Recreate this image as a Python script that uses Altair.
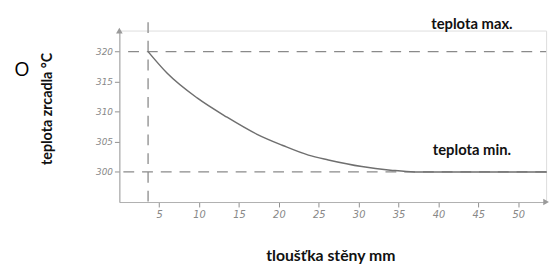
import altair as alt
import pandas as pd

# curve values
thickness = [3.6, 6.0, 9.75, 13.5, 17.2, 20.5, 23.7, 26.2, 30.4, 34.0, 37.0, 53.6]
temperature = [320, 316.4, 312.3, 309.1, 306.3, 304.4, 302.8, 302.0, 300.9, 300.3, 300.0, 300.0]

x_ticks = [5, 10, 15, 20, 25, 30, 35, 40, 45, 50]
y_ticks = [300, 305, 310, 315, 320]

t_max = 320
t_min = 300
x_start = 3.6

labels = ["teplota max.", "teplota min."]
label_x = [44.2, 44.2]
label_y = [324.6, 303.6]

X_DOM = [0, 53.5]
Y_DOM = [295, 323.5]
W, H = 433, 174
GREY = "#8a8a8a"

xs = alt.Scale(domain=X_DOM, nice=False, zero=False)
ys = alt.Scale(domain=Y_DOM, nice=False, zero=False)

curve_df = pd.DataFrame({"x": thickness, "y": temperature})

base_axes = alt.Chart(pd.DataFrame({"x": [0], "y": [Y_DOM[0]]})).mark_point(opacity=0).encode(
    x=alt.X("x:Q", scale=xs, axis=alt.Axis(
        values=x_ticks, title="tloušťka stěny mm", grid=False,
        domainColor="#b0b0b0", tickColor="#909090", tickSize=5,
        labelColor="#888", labelFont="DejaVu Sans", labelFontSize=10, labelFontStyle="italic",
        labelPadding=3,
        titleFont="Lato", titleFontSize=16, titleFontWeight="bold", titleColor="#111",
        titleX=214, titleY=46, titleAnchor="middle")),
    y=alt.Y("y:Q", scale=ys, axis=alt.Axis(
        values=y_ticks, title="teplota zrcadla °C", grid=False,
        domainColor="#a0a0a0", tickColor="#909090", tickSize=5,
        labelColor="#888", labelFont="DejaVu Sans", labelFontSize=9, labelFontStyle="italic",
        labelPadding=2,
        titleFont="Lato", titleFontSize=14.5, titleFontWeight="bold", titleColor="#111",
        titleX=-73, titleY=79, titleAngle=270, titleAnchor="middle", titleBaseline="middle")),
)

hmax = alt.Chart(pd.DataFrame({"x": [1.1], "x2": [53.5], "y": [t_max]})).mark_rule(
    color=GREY, strokeDash=[11, 8], strokeWidth=1.3).encode(
    x=alt.X("x:Q", scale=xs), x2="x2:Q", y=alt.Y("y:Q", scale=ys))

hmin = alt.Chart(pd.DataFrame({"x": [0.5], "x2": [53.5], "y": [t_min]})).mark_rule(
    color=GREY, strokeDash=[11, 8], strokeWidth=1.3).encode(
    x=alt.X("x:Q", scale=xs), x2="x2:Q", y=alt.Y("y:Q", scale=ys))

vline = alt.Chart(pd.DataFrame({"x": [x_start], "y": [324.9], "y2": [294.6]})).mark_rule(
    color=GREY, strokeDash=[11, 8], strokeWidth=1.3, clip=False).encode(
    x=alt.X("x:Q", scale=xs), y=alt.Y("y:Q", scale=ys), y2="y2:Q")

curve = alt.Chart(curve_df).mark_line(color="#6f6f6f", strokeWidth=1.5, interpolate="monotone").encode(
    x=alt.X("x:Q", scale=xs), y=alt.Y("y:Q", scale=ys))

arrows = alt.Chart(pd.DataFrame({"x": [0, X_DOM[1]], "y": [Y_DOM[1], Y_DOM[0]],
                                 "s": ["triangle-up", "triangle-right"]})).mark_point(
    filled=True, color="#9a9a9a", size=45, opacity=1, clip=False).encode(
    x=alt.X("x:Q", scale=xs), y=alt.Y("y:Q", scale=ys),
    shape=alt.Shape("s:N", scale=None, legend=None))

texts = alt.Chart(pd.DataFrame({"x": label_x, "y": label_y, "t": labels})).mark_text(
    font="Lato", fontSize=15, fontWeight="bold", color="#111", align="center", baseline="middle",
    clip=False).encode(x=alt.X("x:Q", scale=xs), y=alt.Y("y:Q", scale=ys), text="t:N")

letter = alt.Chart(pd.DataFrame({"t": ["O"]})).mark_text(
    font="Open Sans", fontSize=20, color="#000", align="center", baseline="middle").encode(
    x=alt.value(-99), y=alt.value(40), text="t:N")

chart = alt.layer(base_axes, hmax, hmin, vline, curve, arrows, texts, letter).properties(
    width=W, height=H,
    autosize=alt.AutoSizeParams(type="none"),
    padding={"left": 113, "top": 21, "right": 6, "bottom": 62},
).configure_view(stroke=None).configure(background="white")

chart.save("out.html", embed_options={"renderer": "svg", "actions": False})
